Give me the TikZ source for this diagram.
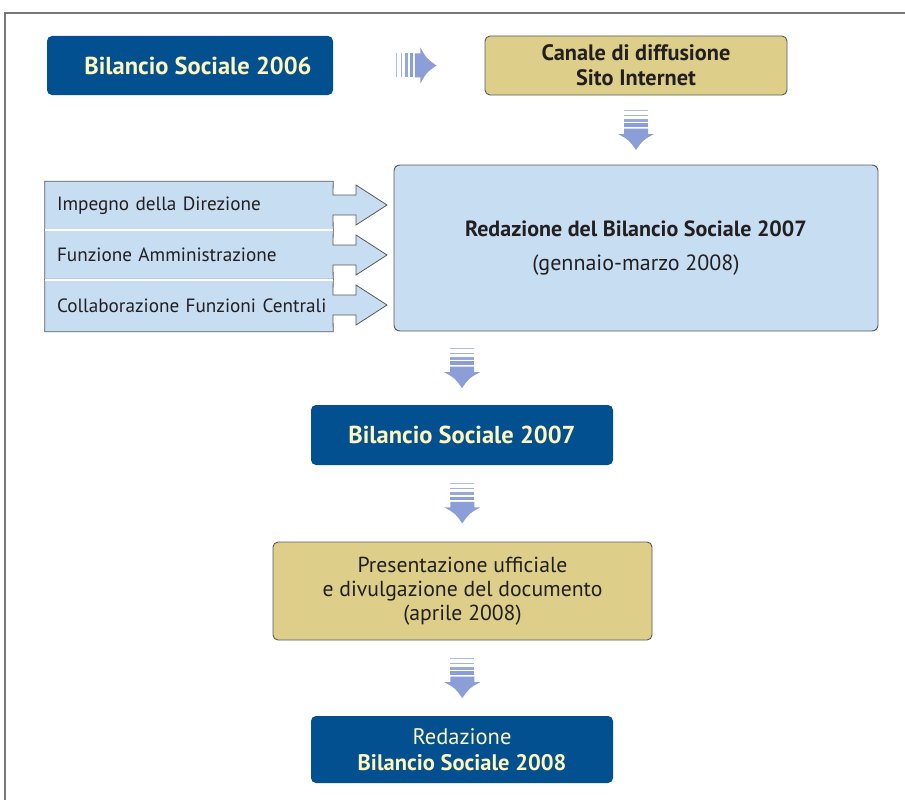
\documentclass[tikz,border=0pt]{standalone}
\usepackage{fontspec}
\setmainfont{PT Sans}
\usetikzlibrary{calc,backgrounds}
\definecolor{boxblue}{RGB}{2,80,143}
\definecolor{paletext}{RGB}{255,246,190}
\definecolor{beige}{RGB}{221,206,138}
\definecolor{lightblue}{RGB}{198,221,242}
\definecolor{darktext}{RGB}{35,31,32}
\definecolor{edgegray}{RGB}{90,90,90}
\definecolor{arrowc}{RGB}{140,158,215}
\definecolor{framegray}{RGB}{120,120,120}
\newcommand\stripedarrow[2]{%
  \begin{scope}[shift={#1},rotate=#2]
    \fill[arrowc!70] (-12,-20) rectangle (12,-19);
    \fill[arrowc!80] (-12,-15.5) rectangle (12,-14);
    \fill[arrowc!90] (-12,-11) rectangle (12,-8.3);
    \fill[arrowc] (-12,-6.8) rectangle (12,-3.3);
    \fill[arrowc] (-12,-1.5) -- (12,-1.5) -- (12,4) -- (18,4)
      .. controls (7,10) .. (0,20) .. controls (-7,10) .. (-18,4) -- (-12,4) -- cycle;
  \end{scope}}
\begin{document}
\begin{tikzpicture}[x=1pt,y=-1pt,
  bluebox/.style={rectangle,rounded corners=5pt,fill=boxblue,text=paletext,
    font=\fontsize{24.5}{26}\selectfont,align=center,inner sep=0pt},
  beigebox/.style={rectangle,rounded corners=5pt,fill=beige,draw=edgegray,line width=0.9pt,
    text=darktext,font=\fontsize{21.7}{24}\selectfont,align=center,inner sep=0pt},
  lbbox/.style={rectangle,rounded corners=6pt,fill=lightblue,draw=edgegray,line width=0.9pt,
    text=darktext,font=\fontsize{22}{26}\selectfont,align=center,inner sep=0pt},
  barnode/.style={rectangle,minimum width=288pt,text width=276pt,align=left,
    inner sep=0pt,text=darktext,font=\fontsize{19.2}{22}\selectfont},
  barshape/.style={fill=lightblue,draw=edgegray,line width=0.8pt},
]
\useasboundingbox (0,0) rectangle (905,800);
\draw[framegray,line width=1.3pt] (5,800) -- (5,13) -- (905,13);

\node[bluebox,minimum width=286pt,minimum height=59pt] (A) at (190,65.5)
  {\hspace*{16pt}\textbf{Bilancio Sociale 2006}};
\node[beigebox,minimum width=302pt,minimum height=59pt,
  font=\fontsize{22.3}{25}\selectfont] (B) at (636,65.5)
  {\textbf{Canale di diffusione}\\\textbf{Sito Internet}};
\node[lbbox,minimum width=484pt,minimum height=166pt] (C) at (636,248)
  {\textbf{Redazione del Bilancio Sociale 2007}\\[8pt](gennaio-marzo 2008)};
\node[bluebox,minimum width=302pt,minimum height=60pt] (D) at (462,435)
  {\textbf{Bilancio Sociale 2007}};
\node[beigebox,minimum width=379pt,minimum height=98pt] (E) at (462.5,591)
  {Presentazione ufficiale\\e divulgazione del documento\\(aprile 2008)};
\node[bluebox,minimum width=302pt,minimum height=67pt,
  font=\fontsize{22.5}{26}\selectfont] (F) at (462,749.5)
  {Redazione\\\textbf{Bilancio Sociale 2008}};

\node[barnode,minimum height=48.5pt] (L1) at (189,205.75) {\hspace*{6pt}Impegno della Direzione};
\node[barnode,minimum height=49.5pt] (L2) at (189,254.75) {\hspace*{6pt}Funzione Amministrazione};
\node[barnode,minimum height=52pt] (L3) at (189,305.5) {\hspace*{6pt}Collaborazione Funzioni Centrali};

\begin{scope}[on background layer]
  \foreach \n/\c in {L1/205,L2/255,L3/305}{
    \draw[barshape] (\n.north west) -- (\n.north east) -- (333,\c-10)
      -- (356,\c-10) -- (356,\c-20) -- (387,\c) -- (356,\c+20) -- (356,\c+10)
      -- (333,\c+10) -- (\n.south east) -- (\n.south west) -- cycle;
  }
\end{scope}
\draw[white,line width=2.2pt] (L1.south west) -- (L1.south east);
\draw[white,line width=2.2pt] (L2.south west) -- (L2.south east);

\coordinate (m0) at ($(A.east)!0.55!(B.west)$);
\coordinate (m1) at ($(B.south)!0.5!(C.north)$);
\coordinate (m2) at ($(C.south -| D.north)!0.5!(D.north)$);
\coordinate (m3) at ($(D.south)!0.5!(E.north)$);
\coordinate (m4) at ($(E.south)!0.5!(F.north)$);
\stripedarrow{(m0)}{90}
\stripedarrow{(m1)}{0}
\stripedarrow{(m2)}{0}
\stripedarrow{(m3)}{0}
\stripedarrow{(m4)}{0}
\end{tikzpicture}
\end{document}
